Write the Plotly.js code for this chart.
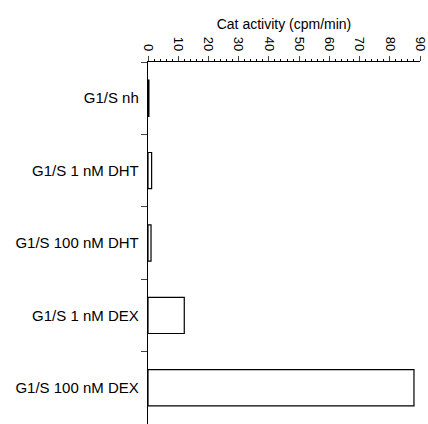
<!DOCTYPE html>
<html><head><meta charset="utf-8">
<script src="https://cdn.plot.ly/plotly-3.0.1.min.js"></script>
<style>body{margin:0;background:#fff}#c{width:428px;height:424px}</style>
</head><body><div id="c"></div>
<script>
var categories = ["G1/S nh", "G1/S 1 nM DHT", "G1/S 100 nM DHT", "G1/S 1 nM DEX", "G1/S 100 nM DEX"];
var values = [0.3, 1.2, 1.0, 12, 88];
var tickVals = [0, 10, 20, 30, 40, 50, 60, 70, 80, 90];

var trace = {
  type: "bar", orientation: "h", y: categories, x: values, width: 0.5,
  marker: {color: "#fff", line: {color: "#000", width: 1.2}}, hoverinfo: "none"
};
var layout = {
  width: 428, height: 424,
  margin: {l: 148, r: 8, t: 62, b: 0, pad: 0},
  paper_bgcolor: "#fff", plot_bgcolor: "#fff",
  font: {family: "Liberation Sans, Arial, sans-serif", color: "#000", size: 12},
  showlegend: false,
  xaxis: {
    side: "top", range: [0, 90], tickvals: tickVals, ticks: "outside", ticklen: 5, tickwidth: 1,
    tickangle: 90, showgrid: false, zeroline: false, showline: true, linecolor: "#000", linewidth: 1.2,
    tickfont: {size: 13}, ticklabeloverflow: "allow",
    minor: {dtick: 2, ticks: "outside", ticklen: 2, tickcolor: "#000"},
    title: {text: "Cat activity (cpm/min)", font: {size: 14}, standoff: 3}
  },
  yaxis: {
    type: "category", autorange: "reversed", ticks: "outside", tickson: "boundaries", ticklen: 6,
    showline: true, linecolor: "#000", linewidth: 1.2, showgrid: false, zeroline: false,
    tickfont: {size: 15}, ticklabelstandoff: 5
  }
};
Plotly.newPlot("c", [trace], layout, {staticPlot: true, displayModeBar: false});
</script></body></html>
